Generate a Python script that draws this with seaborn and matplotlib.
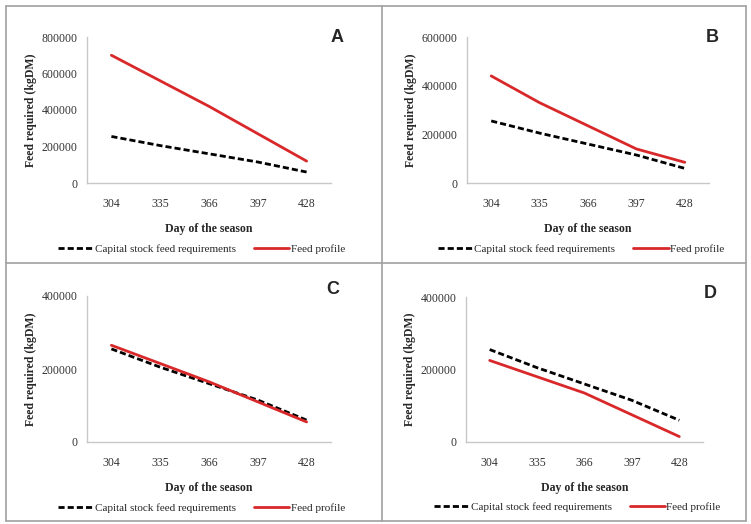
import matplotlib
matplotlib.use("Agg")
import matplotlib.pyplot as plt
import numpy as np
import pandas as pd
import seaborn as sns
from matplotlib.lines import Line2D

# data
days = ["304", "335", "366", "397", "428"]
capital_a = [255000, 205000, 160000, 115000, 60000]
profile_a = [700000, 560000, 420000, 270000, 120000]
capital_b = [255000, 205000, 160000, 115000, 60000]
profile_b = [440000, 330000, 235000, 140000, 85000]
capital_c = [255000, 205000, 160000, 115000, 60000]
profile_c = [265000, 215000, 165000, 110000, 55000]
capital_d = [255000, 205000, 160000, 115000, 60000]
profile_d = [225000, 180000, 135000, 75000, 15000]

panel_names = ["A", "B", "C", "D"]
y_max = [800000, 600000, 400000, 400000]
y_step = [200000, 200000, 200000, 200000]

CAP_LABEL = "Capital stock feed requirements"
PROF_LABEL = "Feed profile"
RED = "#d8282a"

W, H = 751, 524

sns.set_theme(style="white", rc={"figure.facecolor": "white",
                                 "axes.facecolor": "white"})
plt.rcParams["font.family"] = ["Liberation Serif", "DejaVu Serif"]


def long_df(capital, profile):
    df = pd.DataFrame({"day": days, CAP_LABEL: capital, PROF_LABEL: profile})
    return df.melt(id_vars="day", var_name="series", value_name="feed")


def px_axes(fig, left, top, right, bottom):
    return fig.add_axes([left / W, 1 - bottom / H,
                         (right - left) / W, (bottom - top) / H])


fig = plt.figure(figsize=(W / 100, H / 100), dpi=100)

# panel boxes (left, top, right, bottom) in pixels
boxes = [(87, 37, 331, 183), (467, 37, 709, 183),
         (87, 296, 331, 442), (466, 297, 703, 442)]
label_pos = [(337, 38), (712, 37), (333, 289), (710, 293)]
data = [(capital_a, profile_a), (capital_b, profile_b),
        (capital_c, profile_c), (capital_d, profile_d)]

for i, (box, (cap, prof)) in enumerate(zip(boxes, data)):
    ax = px_axes(fig, *box)
    df = long_df(cap, prof)
    sns.lineplot(data=df, x="day", y="feed", hue="series", style="series",
                 palette={CAP_LABEL: "black", PROF_LABEL: RED},
                 dashes={CAP_LABEL: (2.2, 1.1), PROF_LABEL: ""},
                 linewidth=2, legend=False, ax=ax)
    ax.set_xlim(-0.5, 4.5)
    ax.set_ylim(0, y_max[i])
    ticks = np.arange(0, y_max[i] + 1, y_step[i])
    ax.set_yticks(ticks)
    ax.set_yticklabels([f"{v:d}" for v in ticks])
    ax.tick_params(length=0, labelsize=8.5, colors="#333333", pad=7)
    ax.tick_params(axis="x", pad=11)
    for s in ["top", "right"]:
        ax.spines[s].set_visible(False)
    for s in ["left", "bottom"]:
        ax.spines[s].set_color("#c8c8c8")
        ax.spines[s].set_linewidth(1)
    ax.set_xlabel("Day of the season", fontsize=8.5, fontweight="bold",
                  labelpad=9)
    ax.set_ylabel("Feed required (kgDM)", fontsize=8.5, fontweight="bold",
                  labelpad=3)

    handles = [Line2D([], [], color="black", lw=2, dashes=(2.2, 1.1)),
               Line2D([], [], color=RED, lw=2)]
    ax.legend(handles, [CAP_LABEL, PROF_LABEL], loc="center",
              bbox_to_anchor=(0.47, -0.45), ncol=2, frameon=False,
              fontsize=8, handlelength=3.2, handletextpad=0.1,
              columnspacing=1.6)

    lx, ly = label_pos[i]
    fig.text(lx / W, 1 - ly / H, panel_names[i], ha="center", va="center",
             fontsize=13, fontweight="bold", family="Liberation Sans")

# grid borders around the panels
border = dict(color="#a0a0a0", lw=1.2, transform=fig.transFigure)
x0, x1, xm = 6 / W, 746 / W, 382 / W
y0, y1, ym = 1 - 6 / H, 1 - 521 / H, 1 - 263 / H
for xs, ys in [((x0, x1), (y0, y0)), ((x0, x1), (y1, y1)),
               ((x0, x1), (ym, ym)), ((x0, x0), (y0, y1)),
               ((x1, x1), (y0, y1)), ((xm, xm), (y0, y1))]:
    fig.add_artist(Line2D(xs, ys, **border))

fig.savefig("out.png", dpi=100)
